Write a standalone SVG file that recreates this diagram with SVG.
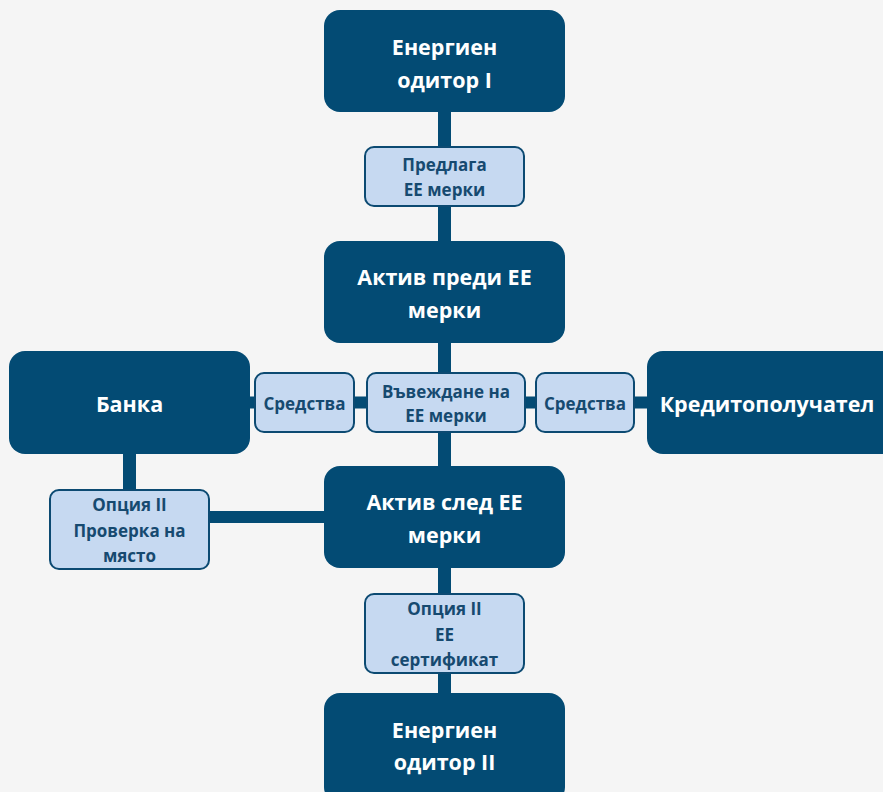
<svg xmlns="http://www.w3.org/2000/svg" width="883" height="792" viewBox="0 0 883 792">
<style>
.dark{fill:#034b74;}
.light{fill:#c6d9f1;stroke:#0c4a72;stroke-width:2;}
.conn{stroke:#034b74;fill:none;}
.dt{font-family:"Open Sans","Noto Sans",sans-serif;font-weight:bold;font-size:21.5px;fill:#ffffff;text-anchor:middle;}
.lt{font-family:"Open Sans","Noto Sans",sans-serif;font-weight:bold;font-size:17px;fill:#164a70;text-anchor:middle;}
</style>
<rect width="883" height="792" fill="#f5f5f5"/>
<g id="connectors">
<line class="conn" x1="444.5" y1="100" x2="444.5" y2="700" stroke-width="13"/>
<line class="conn" x1="240" y1="402.5" x2="660" y2="402.5" stroke-width="12"/>
<line class="conn" x1="129.5" y1="450" x2="129.5" y2="495" stroke-width="13"/>
<line class="conn" x1="205" y1="517" x2="330" y2="517" stroke-width="12"/>
</g>
<g id="auditor1">
<rect class="dark" x="324" y="10" width="241" height="102" rx="16"/>
<text class="dt" x="444.5" y="55">Енергиен</text>
<text class="dt" x="444.5" y="88">одитор I</text>
</g>
<g id="proposes">
<rect class="light" x="365" y="147" width="159" height="59" rx="9"/>
<text class="lt" x="444.5" y="171">Предлага</text>
<text class="lt" x="444.5" y="196">ЕЕ мерки</text>
</g>
<g id="asset-before">
<rect class="dark" x="324" y="241" width="241" height="102" rx="16"/>
<text class="dt" x="444.5" y="285">Актив преди ЕЕ</text>
<text class="dt" x="444.5" y="318">мерки</text>
</g>
<g id="bank">
<rect class="dark" x="9" y="351" width="241" height="103" rx="16"/>
<text class="dt" x="129.5" y="412">Банка</text>
</g>
<g id="funds-left">
<rect class="light" x="255" y="373" width="99" height="59" rx="9"/>
<text class="lt" x="304.5" y="410">Средства</text>
</g>
<g id="implementation">
<rect class="light" x="367" y="373" width="158" height="59" rx="9"/>
<text class="lt" x="446" y="398">Въвеждане на</text>
<text class="lt" x="446" y="422">ЕЕ мерки</text>
</g>
<g id="funds-right">
<rect class="light" x="536" y="373" width="98" height="59" rx="9"/>
<text class="lt" x="585" y="410">Средства</text>
</g>
<g id="borrower">
<rect class="dark" x="647" y="351" width="250" height="103" rx="16"/>
<text class="dt" x="767" y="412">Кредитополучател</text>
</g>
<g id="asset-after">
<rect class="dark" x="324" y="466" width="241" height="102" rx="16"/>
<text class="dt" x="444.5" y="510">Актив след ЕЕ</text>
<text class="dt" x="444.5" y="543">мерки</text>
</g>
<g id="onsite">
<rect class="light" x="50" y="490" width="159" height="79" rx="9"/>
<text class="lt" x="129.5" y="511">Опция II</text>
<text class="lt" x="129.5" y="537">Проверка на</text>
<text class="lt" x="129.5" y="562">място</text>
</g>
<g id="certificate">
<rect class="light" x="365" y="594" width="159" height="79" rx="9"/>
<text class="lt" x="444.5" y="615">Опция II</text>
<text class="lt" x="444.5" y="641">ЕЕ</text>
<text class="lt" x="444.5" y="666">сертификат</text>
</g>
<g id="auditor2">
<rect class="dark" x="324" y="693" width="241" height="110" rx="16"/>
<text class="dt" x="444.5" y="738">Енергиен</text>
<text class="dt" x="444.5" y="770">одитор II</text>
</g>
</svg>
